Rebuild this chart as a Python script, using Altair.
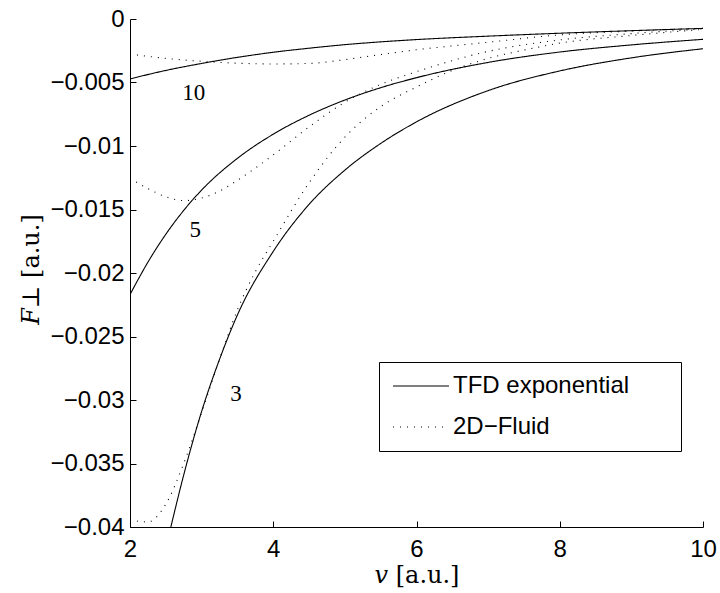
import altair as alt
import pandas as pd

# Perpendicular force F_perp (a.u.) versus velocity v (a.u.), three curves per model
MODELS = ["TFD exponential", "2D\u2212Fluid"]

tfd10_v = [2, 2.5, 3, 3.5, 4, 4.5, 5, 5.5, 6, 7, 8, 9, 10]
tfd10_f = [-0.00472, -0.00405, -0.0035, -0.00302, -0.00262, -0.0023, -0.00202,
           -0.0018, -0.00162, -0.00135, -0.00112, -0.00092, -0.00074]

tfd5_v = [2, 2.25, 2.5, 2.75, 3, 3.5, 4, 4.5, 5, 5.5, 6, 7, 8, 9, 10]
tfd5_f = [-0.0217, -0.01915, -0.01695, -0.01507, -0.01347, -0.01097, -0.00907,
          -0.00758, -0.00638, -0.00541, -0.00462, -0.00342, -0.0026, -0.00204, -0.0016]

tfd3_v = [2.57, 2.75, 3, 3.25, 3.5, 4, 4.5, 5, 5.5, 6, 7, 8, 9, 10]
tfd3_f = [-0.0400, -0.0359, -0.0309, -0.0268, -0.0233, -0.0183, -0.0146, -0.0119,
          -0.0098, -0.0081, -0.00564, -0.00409, -0.00306, -0.00234]

fl10_v = [2, 2.5, 3, 3.5, 4, 4.5, 5, 5.5, 6, 6.5, 7, 8, 9, 10]
fl10_f = [-0.00276, -0.0031, -0.00333, -0.00348, -0.00354, -0.0035, -0.0032, -0.0028,
          -0.00242, -0.00212, -0.00183, -0.00125, -0.00095, -0.00073]

fl5_v = [2, 2.25, 2.5, 2.75, 3, 3.25, 3.5, 4, 4.5, 5, 5.5, 6, 7, 8, 9, 10]
fl5_f = [-0.01255, -0.01335, -0.0140, -0.0143, -0.0141, -0.01355, -0.0127, -0.0107,
         -0.0085, -0.00655, -0.00515, -0.00415, -0.00255, -0.00165, -0.00115, -0.00078]

fl3_v = [2, 2.25, 2.5, 2.75, 3, 3.25, 3.5, 3.75, 4, 4.5, 5, 5.5, 6, 6.5, 7, 7.5, 8, 9, 10]
fl3_f = [-0.03945, -0.0396, -0.0382, -0.0350, -0.0310, -0.0268, -0.0229, -0.0199,
         -0.0175, -0.0129, -0.0093, -0.0069, -0.00535, -0.00405, -0.0031, -0.00245,
         -0.0019, -0.0013, -0.00082]

# Curve annotations (parameter value) and where they sit
label_text = ["10", "5", "3"]
label_v = [2.89, 2.91, 3.48]
label_f = [-0.00583, -0.0166, -0.0295]

series = [
    (MODELS[0], "10", tfd10_v, tfd10_f),
    (MODELS[0], "5", tfd5_v, tfd5_f),
    (MODELS[0], "3", tfd3_v, tfd3_f),
    (MODELS[1], "10", fl10_v, fl10_f),
    (MODELS[1], "5", fl5_v, fl5_f),
    (MODELS[1], "3", fl3_v, fl3_f),
]
rows = []
for model, n, vs, fs in series:
    for v, f in zip(vs, fs):
        rows.append({"model": model, "curve": model + n, "v": v, "F": f})
df = pd.DataFrame(rows)
labels_df = pd.DataFrame({"n": label_text, "v": label_v, "F": label_f})

W, H = 573, 508
SANS = "Liberation Sans"
SERIF = "DejaVu Serif"
X_TICKS = [2, 4, 6, 8, 10]
Y_TICKS = [0, -0.005, -0.01, -0.015, -0.02, -0.025, -0.03, -0.035, -0.04]

x_scale = alt.Scale(domain=[2, 10], nice=False, zero=False)
y_scale = alt.Scale(domain=[-0.04, 0], nice=False, zero=False)

x_axis = alt.Axis(
    orient="bottom", values=X_TICKS, format="d", grid=False, ticks=False,
    domainColor="black", domainWidth=1, labelFont=SANS, labelFontSize=24,
    labelColor="black", labelPadding=10, labelFlush=False,
    title="\U0001D463 [a.u.]", titleFont=SERIF, titleFontSize=24,
    titleFontWeight="normal", titleColor="black", titleY=55,
    titleBaseline="alphabetic",
)
y_axis = alt.Axis(
    orient="left", values=Y_TICKS, format="~g", grid=False, ticks=False,
    domainColor="black", domainWidth=1, labelFont=SANS, labelFontSize=24,
    labelColor="black", labelPadding=6, labelFlush=False,
    title="\U0001D439\u22a5 [a.u.]", titleFont=SERIF, titleFontSize=24,
    titleFontWeight="normal", titleColor="black", titleX=-92, titleY=H / 2 - 4,
    titleAngle=-90, titleAlign="center", titleBaseline="alphabetic",
)
# inward-pointing tick marks, drawn by mirrored axes moved onto the plot edges
x_ticks_in = alt.Axis(
    orient="top", offset=-H, values=X_TICKS, labels=False, domain=False,
    grid=False, ticks=True, tickSize=6, tickColor="black", tickWidth=1, title=None,
)
y_ticks_in = alt.Axis(
    orient="right", offset=-W, values=Y_TICKS, labels=False, domain=False,
    grid=False, ticks=True, tickSize=6, tickColor="black", tickWidth=1, title=None,
)

# boxed legend; the symbol path ends with a bare move-to so the frame
# extends well to the right of the labels
legend = alt.Legend(
    title=None, orient="none", legendX=249, legendY=343,
    strokeColor="black", fillColor="white", padding=12, cornerRadius=0,
    symbolType="M-2,0H9.2M52.8,0", symbolSize=100, symbolStrokeWidth=1,
    symbolStrokeColor="black", symbolFillColor="transparent",
    labelFont=SANS, labelFontSize=24, labelColor="black", labelOffset=38,
    rowPadding=17, labelLimit=400,
)

lines = alt.Chart(df).mark_line(
    color="black", strokeWidth=1.1, clip=True, interpolate="monotone"
).encode(
    x=alt.X("v:Q", scale=x_scale, axis=x_axis),
    y=alt.Y("F:Q", scale=y_scale, axis=y_axis),
    strokeDash=alt.StrokeDash(
        "model:N",
        scale=alt.Scale(domain=MODELS, range=[[1, 0], [1, 6]]),
        legend=legend,
    ),
    detail="curve:N",
)

curve_labels = alt.Chart(labels_df).mark_text(
    font="Liberation Serif", fontSize=23, color="black", baseline="middle", align="center"
).encode(
    x=alt.X("v:Q", scale=x_scale, axis=x_ticks_in),
    y=alt.Y("F:Q", scale=y_scale, axis=y_ticks_in),
    text="n:N",
)

chart = alt.layer(lines, curve_labels).resolve_axis(
    x="independent", y="independent"
).properties(
    width=W, height=H,
    autosize=alt.AutoSizeParams(type="none"),
    padding={"left": 130, "top": 19, "right": 17, "bottom": 66},
    background="white",
).configure_view(stroke=None)

chart.save("out.html", embed_options={"renderer": "svg", "actions": False})
